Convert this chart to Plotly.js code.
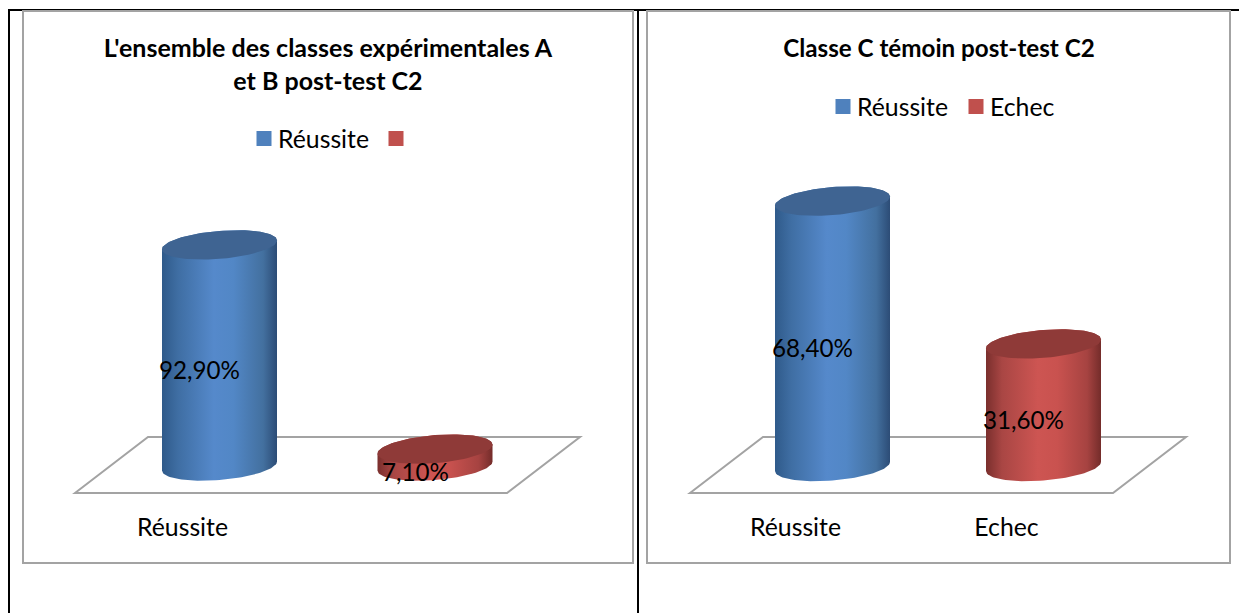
<!DOCTYPE html>
<html><head><meta charset="utf-8">
<script src="https://cdn.plot.ly/plotly-3.0.1.min.js"></script>
<style>
html,body{margin:0;padding:0;background:#fff;overflow:hidden}
#page{position:relative;width:1239px;height:613px;overflow:hidden}
.black{position:absolute;background:#000}
.panel{position:absolute;box-sizing:border-box;border:2px solid #a3a3a3}
.plot{position:absolute}
.legendtext{transform:translateX(-6px)}
</style></head><body>
<div id="page">
<div class="black" style="left:8px;top:9px;width:1231px;height:2px"></div>
<div class="black" style="left:8px;top:9px;width:2px;height:604px"></div>
<div class="black" style="left:637px;top:9px;width:2px;height:604px"></div>
<div class="panel" style="left:22px;top:10px;width:612px;height:554px"></div>
<div class="panel" style="left:646px;top:10px;width:585px;height:554px"></div>
<div class="plot" id="chartA" style="left:24px;top:12px;width:608px;height:550px"></div>
<div class="plot" id="chartB" style="left:648px;top:12px;width:581px;height:550px"></div>
</div>
<script>
// Data
const titleA = "L'ensemble des classes expérimentales A<br>et B post-test C2";
const categoriesA = ["Réussite", ""];
const valuesA = [92.9, 7.1];
const titleB = "Classe C témoin post-test C2";
const categoriesB = ["Réussite", "Echec"];
const valuesB = [68.4, 31.6];

const FONT = "Lato, Carlito, Calibri, sans-serif";
const BLUE = {legend:"#4f81bd", top:"#3f6492",
  grad:[[0,"#2f5a8a"],[0.14,"#3f6ea3"],[0.45,"#5589cb"],[0.62,"#5287c6"],[0.88,"#43709f"],[1,"#2c4c76"]]};
const RED = {legend:"#c0504d", top:"#8f3a38",
  grad:[[0,"#7a2f2d"],[0.14,"#a94644"],[0.45,"#cd5552"],[0.62,"#c9524f"],[0.88,"#a64341"],[1,"#742c2a"]]};
const PALETTE = [BLUE, RED];
const AXIS_PX = 505; // page y of the category axis

function buildChart(id, cfg){
  const {ox, oy, w, h, c0, dx, base, ppu, title, titleSize, titleX, titleY, cats, vals, legendX, legendY, entry, floor, lblShift} = cfg;
  const HW = 57.5, RY = 14, TILT = 4.5, N = 48;
  const xr = [(ox - c0)/dx, (ox + w - c0)/dx];
  const yr = [(base - AXIS_PX)/ppu, (base - oy)/ppu];

  // cylinder outlines go through the axes: positions in data units
  const ux = HW/dx, uy = RY/ppu, ut = TILT/ppu;
  const ex = (c,t)=> c + ux*Math.cos(t);
  const ey = (v,t)=> v + uy*Math.sin(t) + ut*Math.cos(t);
  const traces = [];
  // real bars carry the values and the legend entries
  vals.forEach((v,i)=>{
    traces.push({type:"bar", x:[i], y:[v], width:0.3, name: cats[i] || " ",
      marker:{color:PALETTE[i].legend, line:{color:PALETTE[i].legend, width:3}},
      showlegend:true, hoverinfo:"skip"});
  });
  vals.forEach((v,i)=>{
    const bx=[], by=[], tx=[], ty=[];
    for(let k=0;k<=N;k++){ const t=Math.PI + Math.PI*k/N; bx.push(ex(i,t)); by.push(ey(0,t)); }
    for(let k=0;k<=N;k++){ const t=Math.PI*k/N; bx.push(ex(i,t)); by.push(ey(v,t)); }
    for(let k=0;k<=2*N;k++){ const t=2*Math.PI*k/(2*N); tx.push(ex(i,t)); ty.push(ey(v,t)); }
    traces.push({type:"scatter", mode:"lines", x:bx, y:by, fill:"toself", line:{width:0},
      fillgradient:{type:"horizontal", colorscale:PALETTE[i].grad}, showlegend:false, hoverinfo:"skip"});
    traces.push({type:"scatter", mode:"lines", x:tx, y:ty, fill:"toself", line:{width:0},
      fillcolor:PALETTE[i].top, showlegend:false, hoverinfo:"skip"});
  });

  const px = p => (p - ox)/w, py = p => (AXIS_PX - p)/(AXIS_PX - oy);
  const floorPath = "M" + floor.map(p=>px(p[0])+","+py(p[1])).join("L") + "Z";
  const layout = {
    width:w, height:h, margin:{l:0,r:0,t:0,b:oy+h-AXIS_PX,pad:0},
    paper_bgcolor:"rgba(0,0,0,0)", plot_bgcolor:"rgba(0,0,0,0)",
    font:{family:FONT, color:"#000"},
    title:{text:title, x:(titleX-ox)/w, xanchor:"center", xref:"container", y:1-(titleY-oy)/h, yref:"container", yanchor:"top",
      font:{family:FONT, size:titleSize, weight:700, color:"#000"}},
    showlegend:true,
    legend:{orientation:"h", x:px(legendX), y:py(legendY), xanchor:"left", yanchor:"middle",
      font:{family:FONT, size:24.8, color:"#000"}, entrywidth:entry, entrywidthmode:"pixels",
      traceorder:"normal", bgcolor:"rgba(0,0,0,0)", itemclick:false, itemdoubleclick:false},
    xaxis:{type:"linear", range:xr, domain:[0,1], tickmode:"array", tickvals:cats.map((c,i)=>i), ticktext:cats,
      showgrid:false, zeroline:false, showline:false, ticks:"", ticklabelshift:lblShift, ticklabelstandoff:5,
      tickfont:{family:FONT, size:24.8, color:"#000"}, fixedrange:true},
    yaxis:{type:"linear", range:yr, domain:[0,1], showgrid:false, zeroline:false, showline:false, showticklabels:false, ticks:"", fixedrange:true},
    shapes:[{type:"path", xref:"paper", yref:"paper", path:floorPath, layer:"below", line:{color:"#a3a3a3", width:2}}],
    annotations: vals.map((_,i)=>({x:i, y:vals[i]/2, xref:"x", yref:"y", showarrow:false,
      text: vals[i].toFixed(2).replace(".",",") + "%", xshift:-20, yshift:-14,
      font:{family:FONT, size:24.2, color:"#000"}})),
    barmode:"overlay", hovermode:false
  };
  return Plotly.newPlot(id, traces, layout, {displayModeBar:false, staticPlot:true});
}

buildChart("chartA", {ox:24, oy:12, w:608, h:550, c0:219.5, dx:215.5, base:466, ppu:2.38,
  title:titleA, titleSize:25, titleX:328, titleY:57, cats:categoriesA, vals:valuesA, legendX:244, legendY:139, entry:87,
  floor:[[75,493],[148,437],[580,437],[507,493]], lblShift:-37});
buildChart("chartB", {ox:648, oy:12, w:581, h:550, c0:832.5, dx:211, base:466.5, ppu:3.88,
  title:titleB, titleSize:24.2, titleX:939, titleY:40, cats:categoriesB, vals:valuesB, legendX:823, legendY:107, entry:88,
  floor:[[690,493],[763,437],[1186,437],[1113,493]], lblShift:-37});
</script>
</body></html>
